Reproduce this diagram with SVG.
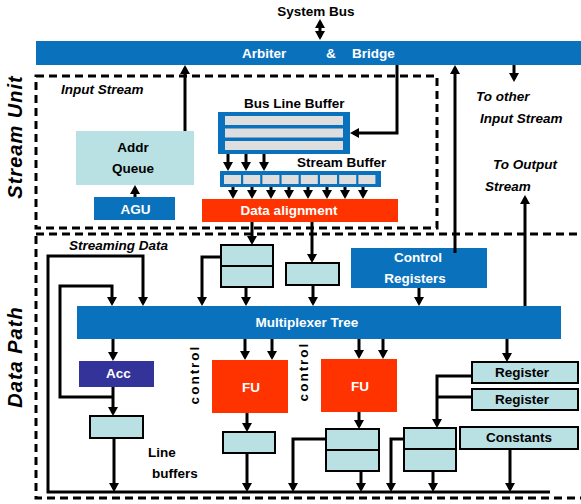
<svg xmlns="http://www.w3.org/2000/svg" width="581" height="504" viewBox="0 0 581 504">
<defs>
<marker id="ah" viewBox="0 0 9 10" refX="6" refY="5" markerWidth="9" markerHeight="10" markerUnits="userSpaceOnUse" orient="auto-start-reverse">
<path d="M0,0 L9,5 L0,10 z" fill="#000"/>
</marker>
<style>
text{font-family:"Liberation Sans",Arial,sans-serif;font-weight:bold;font-size:13.5px;fill:#000}
.w{fill:#fff}
.c{text-anchor:middle}
.i{font-style:italic}
.big{font-size:20px;font-style:italic;letter-spacing:1px;text-anchor:middle}
.ctl{letter-spacing:2px;text-anchor:middle}
.blue{fill:#0a72bd}
.red{fill:#ff3300}
.lt{fill:#b9e0e3}
.box{fill:#b9e0e3;stroke:#000;stroke-width:2}
.gray{fill:#dedede}
.dash{fill:none;stroke:#000;stroke-width:3;stroke-dasharray:8 5}
.ln{fill:none;stroke:#000;stroke-width:3}
.ar{fill:none;stroke:#000;stroke-width:3;marker-end:url(#ah)}
.dv{stroke:#000;stroke-width:2}
</style>
</defs>
<rect width="581" height="504" fill="#fff"/>

<g id="regions">
<rect class="dash" x="36" y="76" width="401" height="152"/>
<rect class="dash" x="36" y="234" width="560" height="264"/>
<text class="big" transform="translate(22,137) rotate(-90)">Stream Unit</text>
<text class="big" transform="translate(22,357) rotate(-90)">Data Path</text>
</g>

<g id="labels">
<text x="316" y="16" class="c">System Bus</text>
<text x="61" y="94" class="i">Input Stream</text>
<text x="476" y="101" class="i">To other</text>
<text x="480" y="123" class="i">Input Stream</text>
<text x="493" y="169" class="i">To Output</text>
<text x="485" y="191" class="i">Stream</text>
<text x="69" y="250" class="i">Streaming Data</text>
<text class="ctl" transform="translate(199,374.5) rotate(-90)">control</text>
<text class="ctl" transform="translate(308,371.5) rotate(-90)">control</text>
<text x="148" y="457">Line</text>
<text x="152" y="478">buffers</text>
</g>

<g id="arbiter">
<rect class="blue" x="36" y="41" width="545" height="24"/>
<text class="w" x="242" y="58">Arbiter</text>
<text class="w" x="326" y="58">&amp;</text>
<text class="w" x="352" y="58">Bridge</text>
</g>

<g id="addr-queue">
<rect class="lt" x="76" y="131" width="118" height="54"/>
<text class="c" x="133" y="152">Addr</text>
<text class="c" x="133" y="173">Queue</text>
</g>

<g id="agu">
<rect class="blue" x="94" y="197" width="81" height="23"/>
<text class="w c" x="135.5" y="214">AGU</text>
</g>

<g id="bus-line-buffer">
<text x="244" y="108">Bus Line Buffer</text>
<rect class="blue" x="218" y="112" width="132" height="42"/>
<rect class="gray" x="225" y="116" width="118" height="9"/>
<rect class="gray" x="225" y="128.5" width="118" height="9"/>
<rect class="gray" x="225" y="141" width="118" height="9"/>
</g>

<g id="stream-buffer">
<text x="297" y="167">Stream Buffer</text>
<rect class="blue" x="220" y="171" width="161" height="16"/>
<rect class="gray" x="224" y="175" width="17" height="9"/>
<rect class="gray" x="243.2" y="175" width="17" height="9"/>
<rect class="gray" x="262.4" y="175" width="17" height="9"/>
<rect class="gray" x="281.6" y="175" width="17" height="9"/>
<rect class="gray" x="300.8" y="175" width="17" height="9"/>
<rect class="gray" x="320" y="175" width="17" height="9"/>
<rect class="gray" x="339.2" y="175" width="17" height="9"/>
<rect class="gray" x="358.4" y="175" width="17" height="9"/>
</g>

<g id="data-alignment">
<rect class="red" x="202" y="199" width="196" height="23"/>
<text class="w c" x="289" y="215">Data alignment</text>
</g>

<g id="reg-a">
<rect class="box" x="221" y="245" width="52" height="42"/>
<line class="dv" x1="221" y1="266" x2="273" y2="266"/>
</g>

<g id="reg-b">
<rect class="box" x="286" y="263" width="53" height="22"/>
</g>

<g id="control-registers">
<rect class="blue" x="351" y="248" width="136" height="40"/>
<text class="w c" x="418" y="262">Control</text>
<text class="w c" x="415" y="283">Registers</text>
</g>

<g id="multiplexer-tree">
<rect class="blue" x="77" y="306" width="484" height="33"/>
<text class="w c" x="307" y="327">Multiplexer Tree</text>
</g>

<g id="acc">
<rect fill="#333399" x="79" y="361" width="75" height="26"/>
<text class="w c" x="118.5" y="378">Acc</text>
</g>

<g id="line-buffer">
<rect class="box" x="90" y="416" width="53" height="22"/>
</g>

<g id="fu1">
<rect class="red" x="212" y="360" width="76" height="53"/>
<text class="w c" x="251" y="392">FU</text>
</g>

<g id="fu2">
<rect class="red" x="321" y="359" width="76" height="53"/>
<text class="w c" x="360" y="391">FU</text>
</g>

<g id="reg-fu1">
<rect class="box" x="223" y="432" width="52" height="21"/>
</g>

<g id="reg-fu2">
<rect class="box" x="326" y="429" width="53" height="42"/>
<line class="dv" x1="326" y1="450" x2="379" y2="450"/>
</g>

<g id="reg-const">
<rect class="box" x="404" y="428" width="52" height="43"/>
<line class="dv" x1="404" y1="449" x2="456" y2="449"/>
</g>

<g id="register1">
<rect class="box" x="472" y="362" width="106" height="21"/>
<text class="c" x="522" y="377">Register</text>
</g>

<g id="register2">
<rect class="box" x="472" y="389" width="106" height="21"/>
<text class="c" x="522" y="404">Register</text>
</g>

<g id="constants">
<rect class="box" x="460" y="427" width="118" height="22"/>
<text class="c" x="519" y="442">Constants</text>
</g>

<g id="connectors">
<line class="ar" x1="320" y1="22" x2="320" y2="37" marker-start="url(#ah)"/>
<line class="ar" x1="185" y1="131" x2="185" y2="68"/>
<path class="ar" d="M397,65 V133 H353"/>
<line class="ar" x1="455" y1="253" x2="455" y2="68"/>
<line class="ar" x1="514" y1="65" x2="514" y2="79"/>
<line class="ar" x1="525" y1="306" x2="525" y2="198"/>
<line class="ar" x1="135" y1="197" x2="135" y2="188"/>
<line class="ar" x1="228" y1="154" x2="228" y2="168"/>
<line class="ar" x1="246" y1="154" x2="246" y2="168"/>
<line class="ar" x1="264" y1="154" x2="264" y2="168"/>
<line class="ar" x1="233" y1="187" x2="233" y2="196"/>
<line class="ar" x1="252" y1="187" x2="252" y2="196"/>
<line class="ar" x1="271" y1="187" x2="271" y2="196"/>
<line class="ar" x1="289" y1="187" x2="289" y2="196"/>
<line class="ar" x1="308" y1="187" x2="308" y2="196"/>
<line class="ar" x1="327" y1="187" x2="327" y2="196"/>
<line class="ar" x1="345" y1="187" x2="345" y2="196"/>
<line class="ar" x1="363" y1="187" x2="363" y2="196"/>
<line class="ar" x1="252" y1="222" x2="252" y2="242"/>
<line class="ar" x1="312" y1="222" x2="312" y2="260"/>
<path class="ar" d="M221,257 H202 V303"/>
<line class="ar" x1="246" y1="287" x2="246" y2="303"/>
<line class="ar" x1="313" y1="285" x2="313" y2="303"/>
<line class="ar" x1="419" y1="288" x2="419" y2="303"/>
<path class="ar" d="M550,492 H48 V256 H143 V303"/>
<path class="ar" d="M113,397 H60 V286 H112 V303"/>
<line class="ar" x1="113" y1="339" x2="113" y2="358"/>
<line class="ar" x1="113" y1="387" x2="113" y2="413"/>
<line class="ar" x1="114" y1="438" x2="114" y2="489"/>
<line class="ar" x1="245" y1="339" x2="245" y2="357"/>
<line class="ar" x1="272" y1="339" x2="272" y2="357"/>
<line class="ar" x1="359" y1="339" x2="359" y2="356"/>
<line class="ar" x1="383" y1="339" x2="383" y2="356"/>
<line class="ar" x1="507" y1="339" x2="507" y2="359"/>
<line class="ar" x1="247" y1="413" x2="247" y2="429"/>
<line class="ar" x1="247" y1="453" x2="247" y2="489"/>
<line class="ar" x1="359" y1="412" x2="359" y2="426"/>
<path class="ar" d="M326,439 H293 V489"/>
<line class="ar" x1="361" y1="471" x2="361" y2="489"/>
<path class="ar" d="M404,439 H391 V489"/>
<line class="ar" x1="433" y1="471" x2="433" y2="489"/>
<path class="ar" d="M472,376 H437 V425"/>
<line class="ln" x1="437" y1="397" x2="472" y2="397"/>
<line class="ar" x1="510" y1="449" x2="510" y2="489"/>
</g>
</svg>
